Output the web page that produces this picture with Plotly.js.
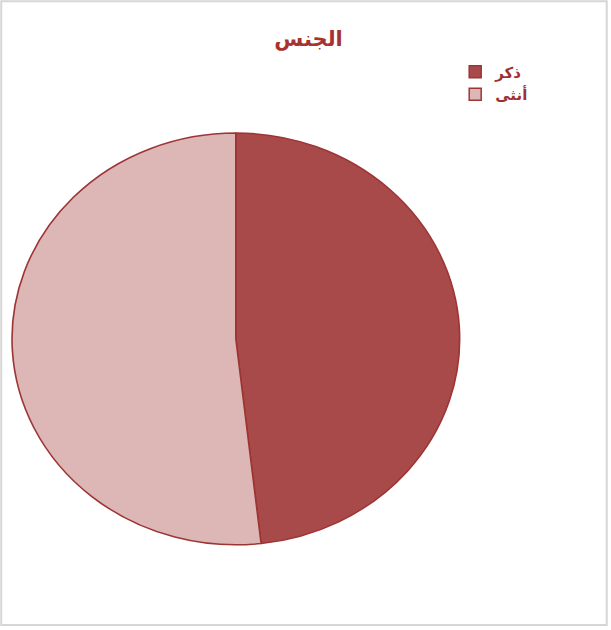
<!DOCTYPE html>
<html>
<head>
<meta charset="utf-8">
<script src="https://cdn.plot.ly/plotly-3.0.1.min.js"></script>
<style>html,body{margin:0;padding:0;background:#fff;}#chart{width:611px;height:630px;}</style>
</head>
<body>
<div id="chart"></div>
<script>
const categories = ['ذكر', 'أنثى'];
const values = [48.2, 51.8];
const sliceColors = ['#A84A4A', '#DDB6B6'];
const chartTitle = 'الجنس';

const trace = {
  type: 'pie',
  labels: categories,
  values: values,
  sort: false,
  direction: 'clockwise',
  rotation: 0,
  textinfo: 'none',
  hoverinfo: 'label+percent',
  marker: {colors: sliceColors, line: {color: '#9E3535', width: 1.5}},
  domain: {x: [0.049, 0.723], y: [0.135, 0.789]}
};

const layout = {
  width: 611, height: 630,
  margin: {l: 0, r: 0, t: 0, b: 0},
  paper_bgcolor: '#ffffff',
  font: {family: 'Liberation Sans, Arial, sans-serif', color: '#A03030'},
  title: {text: '<b>' + chartTitle + '</b>', x: 0.505, xanchor: 'center', y: 0.938, yanchor: 'middle',
          font: {size: 21, color: '#A83232', family: 'DejaVu Sans, sans-serif'}},
  showlegend: true,
  legend: {x: 0.745, y: 0.912, xanchor: 'left', yanchor: 'top',
           font: {size: 15, color: '#A03030', family: 'DejaVu Sans, sans-serif', weight: 'bold'},
           bgcolor: 'rgba(0,0,0,0)', itemwidth: 30},
  shapes: [{type: 'rect', xref: 'paper', yref: 'paper', x0: 0.002, x1: 0.993, y0: 0.008, y1: 0.998,
            line: {color: '#d6d6d6', width: 2}, fillcolor: 'rgba(0,0,0,0)', layer: 'below'}]
};

const gd = document.getElementById('chart');
Plotly.newPlot(gd, [trace], layout, {displayModeBar: false, staticPlot: true}).then(function () {
  // the reference pie is slightly stretched horizontally (ellipse)
  const g = gd.querySelector('.pielayer .trace');
  if (g) {
    const cx = 0.386 * 611;
    const sx = 1.087;
    g.setAttribute('transform', 'translate(' + (cx * (1 - sx)) + ',0) scale(' + sx + ',1)');
  }
});
</script>
</body>
</html>
